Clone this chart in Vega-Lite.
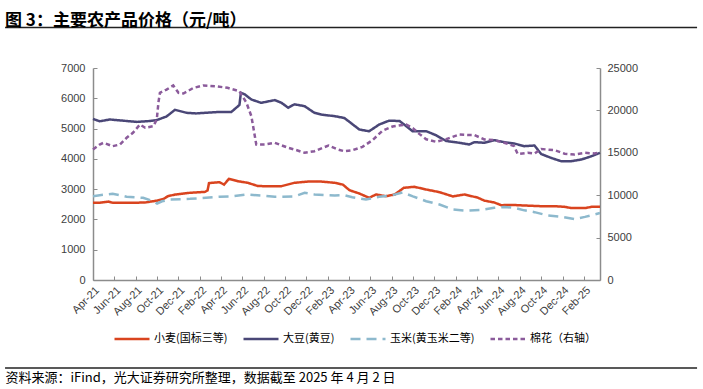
{
  "$schema": "https://vega.github.io/schema/vega-lite/v6.json",
  "autosize": "none",
  "width": 507,
  "height": 212,
  "padding": {"left": 93, "top": 68, "right": 103, "bottom": 109},
  "background": "white",
  "config": {
    "view": {"stroke": null},
    "font": "Liberation Sans",
    "axis": {
      "labelOverlap": false,
      "labelFlush": false,
      "grid": false,
      "labelFont": "Liberation Sans",
      "labelFontSize": 11,
      "labelColor": "#404040",
      "tickSize": -4,
      "tickColor": "#8c8c8c",
      "domainColor": "#8c8c8c",
      "domainWidth": 1.5
    }
  },
  "title": {
    "text": "图 3：主要农产品价格（元/吨）",
    "anchor": "start",
    "frame": "group",
    "dx": -88,
    "dy": 22,
    "offset": 2,
    "baseline": "bottom",
    "font": "Noto Sans CJK SC",
    "fontSize": 17,
    "fontWeight": "bold",
    "color": "#000000"
  },
  "data": {
    "values": [
      {"d": "2021-04-01", "s": "小麦(国标三等)", "v": 2550},
      {"d": "2021-04-20", "s": "小麦(国标三等)", "v": 2550},
      {"d": "2021-05-15", "s": "小麦(国标三等)", "v": 2590},
      {"d": "2021-05-25", "s": "小麦(国标三等)", "v": 2555},
      {"d": "2021-06-17", "s": "小麦(国标三等)", "v": 2550},
      {"d": "2021-07-24", "s": "小麦(国标三等)", "v": 2550},
      {"d": "2021-08-28", "s": "小麦(国标三等)", "v": 2560},
      {"d": "2021-09-30", "s": "小麦(国标三等)", "v": 2620},
      {"d": "2021-10-20", "s": "小麦(国标三等)", "v": 2680},
      {"d": "2021-11-01", "s": "小麦(国标三等)", "v": 2770},
      {"d": "2021-11-21", "s": "小麦(国标三等)", "v": 2820},
      {"d": "2022-01-03", "s": "小麦(国标三等)", "v": 2880},
      {"d": "2022-02-15", "s": "小麦(国标三等)", "v": 2910},
      {"d": "2022-02-22", "s": "小麦(国标三等)", "v": 2960},
      {"d": "2022-02-26", "s": "小麦(国标三等)", "v": 3200},
      {"d": "2022-03-28", "s": "小麦(国标三等)", "v": 3230},
      {"d": "2022-04-10", "s": "小麦(国标三等)", "v": 3150},
      {"d": "2022-04-24", "s": "小麦(国标三等)", "v": 3340},
      {"d": "2022-05-19", "s": "小麦(国标三等)", "v": 3263},
      {"d": "2022-06-17", "s": "小麦(国标三等)", "v": 3209},
      {"d": "2022-07-16", "s": "小麦(国标三等)", "v": 3100},
      {"d": "2022-09-21", "s": "小麦(国标三等)", "v": 3098},
      {"d": "2022-10-28", "s": "小麦(国标三等)", "v": 3209},
      {"d": "2022-12-05", "s": "小麦(国标三等)", "v": 3250},
      {"d": "2023-01-13", "s": "小麦(国标三等)", "v": 3250},
      {"d": "2023-02-20", "s": "小麦(国标三等)", "v": 3209},
      {"d": "2023-03-15", "s": "小麦(国标三等)", "v": 3150},
      {"d": "2023-04-03", "s": "小麦(国标三等)", "v": 2965},
      {"d": "2023-05-01", "s": "小麦(国标三等)", "v": 2856},
      {"d": "2023-05-29", "s": "小麦(国标三等)", "v": 2714},
      {"d": "2023-06-18", "s": "小麦(国标三等)", "v": 2823},
      {"d": "2023-07-16", "s": "小麦(国标三等)", "v": 2767},
      {"d": "2023-08-10", "s": "小麦(国标三等)", "v": 2823},
      {"d": "2023-09-05", "s": "小麦(国标三等)", "v": 3044},
      {"d": "2023-10-05", "s": "小麦(国标三等)", "v": 3077},
      {"d": "2023-11-08", "s": "小麦(国标三等)", "v": 2988},
      {"d": "2023-12-16", "s": "小麦(国标三等)", "v": 2900},
      {"d": "2024-01-23", "s": "小麦(国标三等)", "v": 2760},
      {"d": "2024-02-25", "s": "小麦(国标三等)", "v": 2823},
      {"d": "2024-04-03", "s": "小麦(国标三等)", "v": 2720},
      {"d": "2024-04-22", "s": "小麦(国标三等)", "v": 2620},
      {"d": "2024-05-20", "s": "小麦(国标三等)", "v": 2560},
      {"d": "2024-06-09", "s": "小麦(国标三等)", "v": 2470},
      {"d": "2024-07-07", "s": "小麦(国标三等)", "v": 2480},
      {"d": "2024-08-14", "s": "小麦(国标三等)", "v": 2460},
      {"d": "2024-10-01", "s": "小麦(国标三等)", "v": 2437},
      {"d": "2024-11-08", "s": "小麦(国标三等)", "v": 2437},
      {"d": "2024-12-07", "s": "小麦(国标三等)", "v": 2415},
      {"d": "2024-12-26", "s": "小麦(国标三等)", "v": 2375},
      {"d": "2025-02-03", "s": "小麦(国标三等)", "v": 2375},
      {"d": "2025-02-22", "s": "小麦(国标三等)", "v": 2415},
      {"d": "2025-03-18", "s": "小麦(国标三等)", "v": 2415},

      {"d": "2021-04-01", "s": "大豆(黄豆)", "v": 5320},
      {"d": "2021-04-20", "s": "大豆(黄豆)", "v": 5240},
      {"d": "2021-05-19", "s": "大豆(黄豆)", "v": 5300},
      {"d": "2021-06-17", "s": "大豆(黄豆)", "v": 5270},
      {"d": "2021-08-04", "s": "大豆(黄豆)", "v": 5220},
      {"d": "2021-09-11", "s": "大豆(黄豆)", "v": 5250},
      {"d": "2021-09-30", "s": "大豆(黄豆)", "v": 5280},
      {"d": "2021-10-28", "s": "大豆(黄豆)", "v": 5400},
      {"d": "2021-11-21", "s": "大豆(黄豆)", "v": 5620},
      {"d": "2021-12-24", "s": "大豆(黄豆)", "v": 5520},
      {"d": "2022-01-20", "s": "大豆(黄豆)", "v": 5500},
      {"d": "2022-03-28", "s": "大豆(黄豆)", "v": 5550},
      {"d": "2022-05-01", "s": "大豆(黄豆)", "v": 5550},
      {"d": "2022-05-15", "s": "大豆(黄豆)", "v": 5690},
      {"d": "2022-05-24", "s": "大豆(黄豆)", "v": 5780},
      {"d": "2022-05-28", "s": "大豆(黄豆)", "v": 6180},
      {"d": "2022-06-08", "s": "大豆(黄豆)", "v": 6130},
      {"d": "2022-06-27", "s": "大豆(黄豆)", "v": 5960},
      {"d": "2022-07-25", "s": "大豆(黄豆)", "v": 5850},
      {"d": "2022-09-02", "s": "大豆(黄豆)", "v": 5940},
      {"d": "2022-09-21", "s": "大豆(黄豆)", "v": 5850},
      {"d": "2022-10-10", "s": "大豆(黄豆)", "v": 5690},
      {"d": "2022-10-28", "s": "大豆(黄豆)", "v": 5800},
      {"d": "2022-11-26", "s": "大豆(黄豆)", "v": 5740},
      {"d": "2022-12-24", "s": "大豆(黄豆)", "v": 5520},
      {"d": "2023-01-13", "s": "大豆(黄豆)", "v": 5460},
      {"d": "2023-02-20", "s": "大豆(黄豆)", "v": 5410},
      {"d": "2023-03-19", "s": "大豆(黄豆)", "v": 5350},
      {"d": "2023-04-03", "s": "大豆(黄豆)", "v": 5220},
      {"d": "2023-05-01", "s": "大豆(黄豆)", "v": 4970},
      {"d": "2023-05-29", "s": "大豆(黄豆)", "v": 4910},
      {"d": "2023-06-27", "s": "大豆(黄豆)", "v": 5135},
      {"d": "2023-07-25", "s": "大豆(黄豆)", "v": 5260},
      {"d": "2023-08-24", "s": "大豆(黄豆)", "v": 5250},
      {"d": "2023-09-12", "s": "大豆(黄豆)", "v": 5080},
      {"d": "2023-09-30", "s": "大豆(黄豆)", "v": 4914},
      {"d": "2023-11-08", "s": "大豆(黄豆)", "v": 4914},
      {"d": "2023-12-06", "s": "大豆(黄豆)", "v": 4780},
      {"d": "2024-01-04", "s": "大豆(黄豆)", "v": 4590},
      {"d": "2024-02-11", "s": "大豆(黄豆)", "v": 4530},
      {"d": "2024-03-10", "s": "大豆(黄豆)", "v": 4474},
      {"d": "2024-03-24", "s": "大豆(黄豆)", "v": 4551},
      {"d": "2024-04-22", "s": "大豆(黄豆)", "v": 4530},
      {"d": "2024-05-20", "s": "大豆(黄豆)", "v": 4617},
      {"d": "2024-06-18", "s": "大豆(黄豆)", "v": 4551},
      {"d": "2024-07-16", "s": "大豆(黄豆)", "v": 4507},
      {"d": "2024-08-14", "s": "大豆(黄豆)", "v": 4419},
      {"d": "2024-09-12", "s": "大豆(黄豆)", "v": 4441},
      {"d": "2024-10-01", "s": "大豆(黄豆)", "v": 4160},
      {"d": "2024-10-29", "s": "大豆(黄豆)", "v": 4034},
      {"d": "2024-11-27", "s": "大豆(黄豆)", "v": 3923},
      {"d": "2024-12-26", "s": "大豆(黄豆)", "v": 3923},
      {"d": "2025-01-24", "s": "大豆(黄豆)", "v": 3979},
      {"d": "2025-02-22", "s": "大豆(黄豆)", "v": 4088},
      {"d": "2025-03-18", "s": "大豆(黄豆)", "v": 4199},

      {"d": "2021-04-01", "s": "玉米(黄玉米二等)", "v": 2767},
      {"d": "2021-04-20", "s": "玉米(黄玉米二等)", "v": 2800},
      {"d": "2021-05-27", "s": "玉米(黄玉米二等)", "v": 2846},
      {"d": "2021-06-17", "s": "玉米(黄玉米二等)", "v": 2800},
      {"d": "2021-07-06", "s": "玉米(黄玉米二等)", "v": 2747},
      {"d": "2021-08-22", "s": "玉米(黄玉米二等)", "v": 2713},
      {"d": "2021-09-20", "s": "玉米(黄玉米二等)", "v": 2602},
      {"d": "2021-10-01", "s": "玉米(黄玉米二等)", "v": 2526},
      {"d": "2021-10-15", "s": "玉米(黄玉米二等)", "v": 2600},
      {"d": "2021-11-07", "s": "玉米(黄玉米二等)", "v": 2658},
      {"d": "2022-01-03", "s": "玉米(黄玉米二等)", "v": 2680},
      {"d": "2022-03-28", "s": "玉米(黄玉米二等)", "v": 2747},
      {"d": "2022-05-01", "s": "玉米(黄玉米二等)", "v": 2760},
      {"d": "2022-06-13", "s": "玉米(黄玉米二等)", "v": 2823},
      {"d": "2022-08-04", "s": "玉米(黄玉米二等)", "v": 2780},
      {"d": "2022-09-02", "s": "玉米(黄玉米二等)", "v": 2747},
      {"d": "2022-10-28", "s": "玉米(黄玉米二等)", "v": 2760},
      {"d": "2022-11-26", "s": "玉米(黄玉米二等)", "v": 2879},
      {"d": "2022-12-24", "s": "玉米(黄玉米二等)", "v": 2823},
      {"d": "2023-02-20", "s": "玉米(黄玉米二等)", "v": 2790},
      {"d": "2023-03-19", "s": "玉米(黄玉米二等)", "v": 2800},
      {"d": "2023-04-11", "s": "玉米(黄玉米二等)", "v": 2735},
      {"d": "2023-05-20", "s": "玉米(黄玉米二等)", "v": 2658},
      {"d": "2023-06-27", "s": "玉米(黄玉米二等)", "v": 2747},
      {"d": "2023-08-04", "s": "玉米(黄玉米二等)", "v": 2800},
      {"d": "2023-09-02", "s": "玉米(黄玉米二等)", "v": 2890},
      {"d": "2023-10-01", "s": "玉米(黄玉米二等)", "v": 2760},
      {"d": "2023-11-08", "s": "玉米(黄玉米二等)", "v": 2602},
      {"d": "2023-12-16", "s": "玉米(黄玉米二等)", "v": 2493},
      {"d": "2024-01-23", "s": "玉米(黄玉米二等)", "v": 2328},
      {"d": "2024-03-01", "s": "玉米(黄玉米二等)", "v": 2290},
      {"d": "2024-04-13", "s": "玉米(黄玉米二等)", "v": 2310},
      {"d": "2024-05-20", "s": "玉米(黄玉米二等)", "v": 2383},
      {"d": "2024-06-18", "s": "玉米(黄玉米二等)", "v": 2410},
      {"d": "2024-07-16", "s": "玉米(黄玉米二等)", "v": 2383},
      {"d": "2024-08-14", "s": "玉米(黄玉米二等)", "v": 2300},
      {"d": "2024-09-12", "s": "玉米(黄玉米二等)", "v": 2240},
      {"d": "2024-10-20", "s": "玉米(黄玉米二等)", "v": 2130},
      {"d": "2024-11-27", "s": "玉米(黄玉米二等)", "v": 2090},
      {"d": "2025-01-04", "s": "玉米(黄玉米二等)", "v": 2010},
      {"d": "2025-02-03", "s": "玉米(黄玉米二等)", "v": 2085},
      {"d": "2025-03-18", "s": "玉米(黄玉米二等)", "v": 2210},

      {"d": "2021-04-01", "s": "棉花（右轴）", "v": 15390},
      {"d": "2021-04-20", "s": "棉花（右轴）", "v": 15978},
      {"d": "2021-05-01", "s": "棉花（右轴）", "v": 16180},
      {"d": "2021-05-27", "s": "棉花（右轴）", "v": 15780},
      {"d": "2021-06-17", "s": "棉花（右轴）", "v": 15978},
      {"d": "2021-07-06", "s": "棉花（右轴）", "v": 16770},
      {"d": "2021-07-24", "s": "棉花（右轴）", "v": 17360},
      {"d": "2021-08-13", "s": "棉花（右轴）", "v": 18340},
      {"d": "2021-08-28", "s": "棉花（右轴）", "v": 17950},
      {"d": "2021-09-20", "s": "棉花（右轴）", "v": 18140},
      {"d": "2021-09-30", "s": "棉花（右轴）", "v": 18930},
      {"d": "2021-10-05", "s": "棉花（右轴）", "v": 21000},
      {"d": "2021-10-09", "s": "棉花（右轴）", "v": 22070},
      {"d": "2021-10-28", "s": "棉花（右轴）", "v": 22460},
      {"d": "2021-11-16", "s": "棉花（右轴）", "v": 22940},
      {"d": "2021-12-01", "s": "棉花（右轴）", "v": 22070},
      {"d": "2021-12-15", "s": "棉花（右轴）", "v": 21990},
      {"d": "2022-01-13", "s": "棉花（右轴）", "v": 22660},
      {"d": "2022-02-10", "s": "棉花（右轴）", "v": 22940},
      {"d": "2022-03-18", "s": "棉花（右轴）", "v": 22850},
      {"d": "2022-04-20", "s": "棉花（右轴）", "v": 22660},
      {"d": "2022-05-24", "s": "棉花（右轴）", "v": 22265},
      {"d": "2022-06-13", "s": "棉花（右轴）", "v": 20896},
      {"d": "2022-06-27", "s": "棉花（右轴）", "v": 19315},
      {"d": "2022-07-11", "s": "棉花（右轴）", "v": 15978},
      {"d": "2022-08-04", "s": "棉花（右轴）", "v": 15978},
      {"d": "2022-09-02", "s": "棉花（右轴）", "v": 16180},
      {"d": "2022-10-10", "s": "棉花（右轴）", "v": 15590},
      {"d": "2022-10-28", "s": "棉花（右轴）", "v": 15390},
      {"d": "2022-11-26", "s": "棉花（右轴）", "v": 15000},
      {"d": "2022-12-24", "s": "棉花（右轴）", "v": 15190},
      {"d": "2023-02-02", "s": "棉花（右轴）", "v": 15860},
      {"d": "2023-03-01", "s": "棉花（右轴）", "v": 15390},
      {"d": "2023-03-19", "s": "棉花（右轴）", "v": 15190},
      {"d": "2023-04-11", "s": "棉花（右轴）", "v": 15300},
      {"d": "2023-05-10", "s": "棉花（右轴）", "v": 15700},
      {"d": "2023-06-08", "s": "棉花（右轴）", "v": 16500},
      {"d": "2023-07-06", "s": "棉花（右轴）", "v": 17600},
      {"d": "2023-08-04", "s": "棉花（右轴）", "v": 18100},
      {"d": "2023-09-12", "s": "棉花（右轴）", "v": 18340},
      {"d": "2023-10-01", "s": "棉花（右轴）", "v": 17900},
      {"d": "2023-10-20", "s": "棉花（右轴）", "v": 17200},
      {"d": "2023-11-08", "s": "棉花（右轴）", "v": 16600},
      {"d": "2023-12-06", "s": "棉花（右轴）", "v": 16300},
      {"d": "2024-01-04", "s": "棉花（右轴）", "v": 16600},
      {"d": "2024-02-11", "s": "棉花（右轴）", "v": 17160},
      {"d": "2024-03-10", "s": "棉花（右轴）", "v": 17100},
      {"d": "2024-03-24", "s": "棉花（右轴）", "v": 17100},
      {"d": "2024-04-22", "s": "棉花（右轴）", "v": 16570},
      {"d": "2024-05-20", "s": "棉花（右轴）", "v": 16500},
      {"d": "2024-06-18", "s": "棉花（右轴）", "v": 16180},
      {"d": "2024-07-16", "s": "棉花（右轴）", "v": 15780},
      {"d": "2024-07-26", "s": "棉花（右轴）", "v": 14850},
      {"d": "2024-08-24", "s": "棉花（右轴）", "v": 15000},
      {"d": "2024-09-12", "s": "棉花（右轴）", "v": 14900},
      {"d": "2024-10-01", "s": "棉花（右轴）", "v": 15450},
      {"d": "2024-11-08", "s": "棉花（右轴）", "v": 15310},
      {"d": "2024-12-07", "s": "棉花（右轴）", "v": 14900},
      {"d": "2025-01-04", "s": "棉花（右轴）", "v": 14800},
      {"d": "2025-02-03", "s": "棉花（右轴）", "v": 15000},
      {"d": "2025-03-02", "s": "棉花（右轴）", "v": 14920},
      {"d": "2025-03-18", "s": "棉花（右轴）", "v": 15070}
    ]
  },
  "layer": [
    {
      "transform": [{"filter": "datum.s !== '棉花（右轴）'"}],
      "mark": {"type": "line", "strokeWidth": 2.5, "strokeCap": "butt"},
      "encoding": {
        "x": {
          "field": "d",
          "type": "temporal",
          "scale": {
            "type": "utc",
            "domain": [
              {"year": 2021, "month": 4, "date": 1, "utc": true},
              {"year": 2025, "month": 3, "date": 18, "utc": true}
            ]
          },
          "axis": {
            "values": [
              {"year": 2021, "month": 4, "date": 1, "utc": true},
              {"year": 2021, "month": 6, "date": 1, "utc": true},
              {"year": 2021, "month": 8, "date": 1, "utc": true},
              {"year": 2021, "month": 10, "date": 1, "utc": true},
              {"year": 2021, "month": 12, "date": 1, "utc": true},
              {"year": 2022, "month": 2, "date": 1, "utc": true},
              {"year": 2022, "month": 4, "date": 1, "utc": true},
              {"year": 2022, "month": 6, "date": 1, "utc": true},
              {"year": 2022, "month": 8, "date": 1, "utc": true},
              {"year": 2022, "month": 10, "date": 1, "utc": true},
              {"year": 2022, "month": 12, "date": 1, "utc": true},
              {"year": 2023, "month": 2, "date": 1, "utc": true},
              {"year": 2023, "month": 4, "date": 1, "utc": true},
              {"year": 2023, "month": 6, "date": 1, "utc": true},
              {"year": 2023, "month": 8, "date": 1, "utc": true},
              {"year": 2023, "month": 10, "date": 1, "utc": true},
              {"year": 2023, "month": 12, "date": 1, "utc": true},
              {"year": 2024, "month": 2, "date": 1, "utc": true},
              {"year": 2024, "month": 4, "date": 1, "utc": true},
              {"year": 2024, "month": 6, "date": 1, "utc": true},
              {"year": 2024, "month": 8, "date": 1, "utc": true},
              {"year": 2024, "month": 10, "date": 1, "utc": true},
              {"year": 2024, "month": 12, "date": 1, "utc": true},
              {"year": 2025, "month": 2, "date": 1, "utc": true}
            ],
            "format": "%b-%y",
            "labelAngle": -45,
            "labelAlign": "right",
            "labelBaseline": "top",
            "labelPadding": 8,
            "labelOverlap": false,
            "title": "资料来源：iFind，光大证券研究所整理，数据截至 2025 年 4 月 2 日",
            "titleFont": "Noto Sans CJK SC",
            "titleFontSize": 13,
            "titleFontWeight": "normal",
            "titleColor": "#000000",
            "titleAnchor": "start",
            "titleAlign": "left",
            "titleBaseline": "middle",
            "titleX": -88,
            "titleY": 97
          }
        },
        "y": {
          "field": "v",
          "type": "quantitative",
          "scale": {"domain": [0, 7000], "nice": false},
          "axis": {
            "orient": "left",
            "values": [0, 1000, 2000, 3000, 4000, 5000, 6000, 7000],
            "format": "d",
            "title": null,
            "labelOverlap": false,
            "labelPadding": 12
          }
        },
        "color": {
          "field": "s",
          "type": "nominal",
          "scale": {
            "domain": ["小麦(国标三等)", "大豆(黄豆)", "玉米(黄玉米二等)", "棉花（右轴）"],
            "range": ["#D9441F", "#4A4777", "#8DB9CD", "#8B5B9B"]
          },
          "legend": {
            "orient": "none",
            "legendX": 20,
            "legendY": 252,
            "direction": "horizontal",
            "columns": 4,
            "title": null,
            "symbolType": "stroke",
            "symbolSize": 1225,
            "symbolStrokeWidth": 2.5,
            "labelFont": "Noto Sans CJK SC",
            "labelFontSize": 11,
            "labelColor": "#000000",
            "labelOffset": 3,
            "columnPadding": 10,
            "padding": 0,
            "labelLimit": 300
          }
        },
        "strokeDash": {
          "field": "s",
          "type": "nominal",
          "scale": {
            "domain": ["小麦(国标三等)", "大豆(黄豆)", "玉米(黄玉米二等)", "棉花（右轴）"],
            "range": [[1, 0], [1, 0], [10, 6], [4.5, 3]]
          },
          "legend": {
            "orient": "none",
            "legendX": 20,
            "legendY": 252,
            "direction": "horizontal",
            "columns": 4,
            "title": null,
            "symbolType": "stroke",
            "symbolSize": 1225,
            "symbolStrokeWidth": 2.5,
            "labelFont": "Noto Sans CJK SC",
            "labelFontSize": 11,
            "labelColor": "#000000",
            "labelOffset": 3,
            "columnPadding": 10,
            "padding": 0,
            "labelLimit": 300
          }
        }
      }
    },
    {
      "data": {"values": [{}]},
      "encoding": {
        "x": {"datum": {"year": 2020, "month": 7, "date": 24, "utc": true}, "type": "temporal", "axis": null},
        "x2": {"datum": {"year": 2025, "month": 12, "date": 20, "utc": true}}
      },
      "layer": [
        {
          "mark": {"type": "rule", "color": "#222222", "strokeWidth": 1.3},
          "encoding": {
            "y": {"datum": 8337, "type": "quantitative", "scale": {"domain": [0, 7000], "nice": false}, "axis": null}
          }
        },
        {
          "mark": {"type": "rule", "color": "#222222", "strokeWidth": 1.3},
          "encoding": {
            "y": {"datum": -2906, "type": "quantitative", "axis": null}
          }
        }
      ]
    },
    {
      "transform": [{"filter": "datum.s === '棉花（右轴）'"}],
      "mark": {"type": "line", "strokeWidth": 2.5, "strokeCap": "butt"},
      "encoding": {
        "x": {"field": "d", "type": "temporal", "axis": null},
        "y": {
          "field": "v",
          "type": "quantitative",
          "scale": {"domain": [0, 25000], "nice": false},
          "axis": {
            "orient": "right",
            "values": [0, 5000, 10000, 15000, 20000, 25000],
            "format": "d",
            "title": null,
            "labelOverlap": false,
            "labelPadding": 11
          }
        },
        "color": {"field": "s", "type": "nominal"},
        "strokeDash": {"field": "s", "type": "nominal"}
      }
    }
  ],
  "resolve": {"scale": {"y": "independent"}, "axis": {"x": "independent", "y": "independent"}}
}
